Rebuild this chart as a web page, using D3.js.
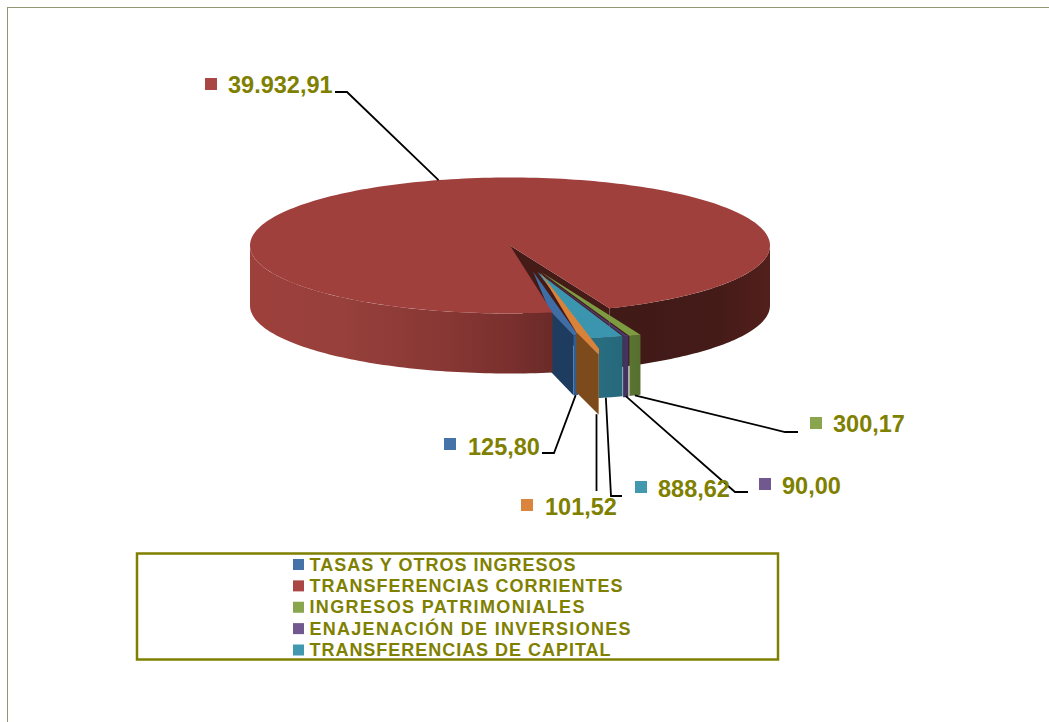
<!DOCTYPE html>
<html><head><meta charset="utf-8">
<script src="https://cdn.jsdelivr.net/npm/d3@7/dist/d3.min.js"></script>
<style>html,body{margin:0;padding:0;background:#fff}svg{display:block}</style>
</head><body><svg id="c" width="1049" height="722"></svg>
<script>
// ---- data ----
const categories = ["TASAS Y OTROS INGRESOS","TRANSFERENCIAS CORRIENTES","INGRESOS PATRIMONIALES","ENAJENACIÓN DE INVERSIONES","TRANSFERENCIAS DE CAPITAL","OTROS"];
const values = [125.80,39932.91,300.17,90.00,888.62,101.52];
const valueLabels = ["125,80","39.932,91","300,17","90,00","888,62","101,52"];
const legendCount = 5;

// ---- styles / layout ----
const topColors  = ["#3f6ea6","#a0403d","#7d9c42","#4e3a76","#3b95ae","#d9823a"];
const keyColors  = ["#4572a7","#aa4643","#89a54e","#71588f","#4198af","#db843d"];
const wallColors = ["#1d3c60","#000","#566f2f","#43345f","#27697c","#7d4a1c"];
const legendWidths = [266,313,275,321,301];
const cx=510, cy=245.5, rx=260, ry=68, depth=60;
const rad = d=>d*Math.PI/180;
// per-slice explode offset and radial scale
const offX=[23,0,31,29,27.5,30], offY=[26,0,26.5,26.5,26.5,26.5], rScale=[0.95,1,1,1,1,1.23];
// side faces seen for the thin front slices: offset from outer point back along wall
const sideBack=[[-24,-25],null,null,null,null,[-22,-22]];
const edgeStroke=[0,0,0,2,0,0];
// label layout
const labelLayout=[
 {sx:444,sy:438,tx:468,ty:455,ex:542,bx:554,by:453},
 {sx:205,sy:78,tx:228,ty:93,ex:335,bx:347,by:92},
 {sx:810,sy:417,tx:833,ty:432,ex:798,bx:785,by:432},
 {sx:759,sy:478,tx:782,ty:494,ex:748,bx:735,by:492},
 {sx:635,sy:481,tx:658,ty:497,ex:622,bx:611,by:496},
 {sx:521,sy:499,tx:545,ty:515,ex:null,bx:596.5,by:491}
];

const svg=d3.select("#c");
const defs=svg.append("defs");
function grad(id,x1,x2,stops){
  const g=defs.append("linearGradient").attr("id",id).attr("gradientUnits","userSpaceOnUse")
    .attr("x1",x1).attr("x2",x2).attr("y1",0).attr("y2",0);
  stops.forEach(s=>g.append("stop").attr("offset",s[0]).attr("stop-color",s[1]));
}
grad("leftWall",cx-rx,cx+45,[[0,"#9e403c"],[0.3,"#97403c"],[0.6,"#8a3835"],[0.85,"#7a302e"],[1,"#692a28"]]);
grad("rightWall",cx+90,cx+rx,[[0,"#3f1a17"],[0.7,"#451b18"],[1,"#521f1c"]]);
defs.append("clipPath").attr("id","orangeClip").append("rect")
  .attr("x",0).attr("y",0).attr("width",cx+89).attr("height",722);

svg.append("rect").attr("x",7.5).attr("y",7.5).attr("width",1060).attr("height",730)
  .attr("fill","#fff").attr("stroke","#8f9a75").attr("stroke-width",1);

const pie=d3.pie().value(d=>d).sort(null).startAngle(rad(79.5+90)).endAngle(rad(79.5+90+360));
const arcs=pie(values).map((a,i)=>({i,a0:a.startAngle-Math.PI/2,a1:a.endAngle-Math.PI/2}));
const red=arcs[1];

const pt=(i,t,dz=0)=>[cx+offX[i]+rx*rScale[i]*Math.cos(t), cy+offY[i]+ry*rScale[i]*Math.sin(t)+dz];
const samples=(a,b,n)=>d3.range(n+1).map(k=>a+(b-a)*k/n);
const line=d3.line();
const poly=(parent,pts,fill,sw=0)=>parent.append("path").attr("d",line(pts)+"Z").attr("fill",fill)
  .attr("stroke",sw?fill:"none").attr("stroke-width",sw);

const a0Norm=red.a1-2*Math.PI;
{
  const right=samples(0,a0Norm,60);
  poly(svg,right.map(t=>pt(1,t)).concat(right.slice().reverse().map(t=>pt(1,t,depth))),"url(#rightWall)");
  const e=pt(1,a0Norm), c=[cx,cy];
  poly(svg,[c,e,[e[0],e[1]+depth],[c[0],c[1]+depth]],"#451b18");
}
function smallSlice(i){
  const g=svg.append("g");
  if(i===5) g.attr("clip-path","url(#orangeClip)");
  const ts=samples(arcs[i].a0,arcs[i].a1,6);
  const top=ts.map(t=>pt(i,t));
  const apex=[cx+offX[i],cy+offY[i]];
  if(sideBack[i]){
    const o=pt(i,arcs[i].a1), b=[o[0]+sideBack[i][0],o[1]+sideBack[i][1]];
    poly(g,[o,b,[b[0],b[1]+depth],[o[0],o[1]+depth]],wallColors[i]);
    poly(g,[apex].concat(top,[b]),topColors[i]);
    poly(g,top.concat(top.slice().reverse().map(p=>[p[0],p[1]+depth])),i===5?"#b06a2a":"#2f5d94");
  } else {
    const wallFill=edgeStroke[i]?wallColors[i]:"url(#front"+i+")";
    poly(g,top.concat(top.slice().reverse().map(p=>[p[0],p[1]+depth])),wallFill,edgeStroke[i]);
    poly(g,[apex].concat(top),topColors[i]);
  }
}
[2,4].forEach(i=>{
  const o0=pt(i,arcs[i].a1)[0], o1=pt(i,arcs[i].a0)[0];
  grad("front"+i,o0,o1,[[0,d3.color(wallColors[i]).brighter(0.12).formatHex()],[1,wallColors[i]]]);
});
[2,4,3,0,5].forEach(smallSlice);

{
  const left=samples(red.a0,Math.PI,80);
  poly(svg,left.map(t=>pt(1,t)).concat(left.slice().reverse().map(t=>pt(1,t,depth))),"url(#leftWall)");
  const ts=samples(red.a0,red.a1,240);
  poly(svg,[[cx,cy]].concat(ts.map(t=>pt(1,t))),topColors[1]);
}

const mids=arcs.map(a=>(a.a0+a.a1)/2);
// orange leader leaves from the slice's left edge so that it falls straight down
const leaderAnchor=i=>i===1?pt(1,mids[1]):i===5?[labelLayout[5].bx,pt(5,arcs[5].a1,depth)[1]]:pt(i,mids[i],depth);
labelLayout.forEach((l,i)=>{
  const pts=[leaderAnchor(i),[l.bx,l.by]];
  if(l.ex!==null) pts.push([l.ex,l.by]);
  svg.append("path").attr("d",line(pts)).attr("fill","none").attr("stroke","#000").attr("stroke-width",1.8);
});

labelLayout.forEach((l,i)=>{
  svg.append("rect").attr("x",l.sx).attr("y",l.sy).attr("width",12).attr("height",12).attr("fill",keyColors[i]);
  svg.append("text").attr("x",l.tx).attr("y",l.ty).text(valueLabels[i])
    .attr("font-family","'Liberation Sans',Arial,sans-serif").attr("font-weight","bold")
    .attr("font-size",23.5).attr("fill","#808000");
});

svg.append("rect").attr("x",137).attr("y",553.5).attr("width",641).attr("height",106)
  .attr("fill","#fff").attr("stroke","#808000").attr("stroke-width",2.5);
const legendY=d3.scalePoint().domain(d3.range(legendCount)).range([564.5,650]);
categories.slice(0,legendCount).forEach((c,i)=>{
  svg.append("rect").attr("x",293).attr("y",legendY(i)-5.5).attr("width",11).attr("height",11).attr("fill",keyColors[i]);
  svg.append("text").attr("x",309.5).attr("y",legendY(i)+6).text(c)
    .attr("font-family","'Liberation Sans',Arial,sans-serif").attr("font-weight","bold")
    .attr("font-size",18).attr("textLength",legendWidths[i]).attr("lengthAdjust","spacing").attr("fill","#808000");
});
</script></body></html>
